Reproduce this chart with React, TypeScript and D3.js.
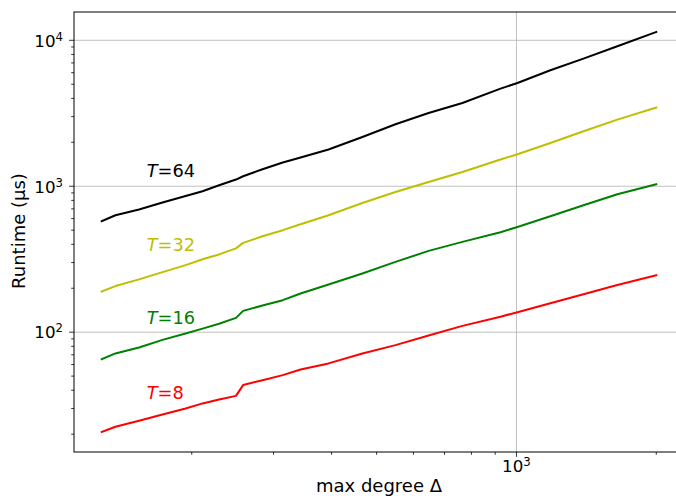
import * as d3 from 'd3';

// max degree values (x) and runtimes in µs per thread count T
const degrees = [128, 137, 154, 173, 194, 211, 229, 249, 258, 284, 314, 343, 394, 466, 549, 647, 765, 924, 1005, 1183, 1394, 1649, 2000];
const runtimeT64 = [576, 633, 693, 773, 858, 924, 1016, 1111, 1171, 1308, 1453, 1573, 1784, 2176, 2659, 3177, 3720, 4669, 5099, 6230, 7494, 9097, 11400];
const runtimeT32 = [190, 207, 230, 258, 288, 316, 341, 375, 409, 454, 500, 549, 633, 768, 914, 1070, 1253, 1524, 1657, 1980, 2381, 2862, 3459];
const runtimeT16 = [65.4, 71.5, 78.6, 88.6, 98.0, 105.7, 114.3, 125.3, 139.9, 152.4, 165.7, 184.1, 212.2, 252.5, 303, 360.6, 415.5, 484, 526.2, 623, 741.3, 881.5, 1032];
const runtimeT8 = [20.7, 22.5, 24.7, 27.3, 30.0, 32.5, 34.6, 36.6, 43.4, 46.9, 50.8, 55.5, 61.1, 71.5, 81.5, 94.9, 110.5, 127.7, 137.1, 158, 182.1, 210.6, 245.7];

const seriesNames = ['64', '32', '16', '8'];
const seriesColors = ['#000000', '#bfbf00', '#008000', '#ff0000'];
const seriesValues = [runtimeT64, runtimeT32, runtimeT16, runtimeT8];
// where each "T=…" label sits, in data coordinates
const labelX = 160;
const labelY = [1160, 360, 113, 35];

const width = 676;
const height = 500;
const left = 74;
const right = 684;
const top = 12;
const bottom = 452;

// matplotlib-style 5% margins in log space
function logDomain(vals: number[]): [number, number] {
  const [lo, hi] = d3.extent(vals) as [number, number];
  const a = Math.log10(lo);
  const b = Math.log10(hi);
  const m = (b - a) * 0.05;
  return [Math.pow(10, a - m), Math.pow(10, b + m)];
}

function logTicks(domain: [number, number]) {
  const major: number[] = [];
  const minor: number[] = [];
  for (let k = -1; k <= 6; k++) {
    for (let m = 1; m <= 9; m++) {
      const v = m * Math.pow(10, k);
      if (v < domain[0] || v > domain[1]) continue;
      if (m === 1) major.push(v);
      else minor.push(v);
    }
  }
  return { major, minor };
}

export default function App() {
  const x = d3.scaleLog().domain(logDomain(degrees)).range([left, right]);
  const y = d3.scaleLog().domain(logDomain(seriesValues.flat())).range([bottom, top]);

  const xt = logTicks(x.domain() as [number, number]);
  const yt = logTicks(y.domain() as [number, number]);

  const line = d3
    .line<number>()
    .x((_, i) => x(degrees[i]))
    .y((d) => y(d));

  const font = 'DejaVu Sans, sans-serif';

  return (
    <svg width={width} height={height} style={{ position: 'absolute', left: 0, top: 0 }} fontFamily={font}>
      <rect x={0} y={0} width={width} height={height} fill="#fff" />
      <defs>
        <clipPath id="plot">
          <rect x={left} y={top} width={right - left} height={bottom - top} />
        </clipPath>
      </defs>

      {/* grid, major only */}
      <g stroke="#b0b0b0" strokeWidth={0.8}>
        {xt.major.map((v) => (
          <line key={'gx' + v} x1={x(v)} x2={x(v)} y1={top} y2={bottom} />
        ))}
        {yt.major.map((v) => (
          <line key={'gy' + v} x1={left} x2={right} y1={y(v)} y2={y(v)} />
        ))}
      </g>

      <g clipPath="url(#plot)" fill="none" strokeWidth={2} strokeLinejoin="round" strokeLinecap="square">
        {seriesValues.map((vals, i) => (
          <path key={i} d={line(vals) || ''} stroke={seriesColors[i]} />
        ))}
      </g>

      {seriesNames.map((n, i) => (
        <text key={'lab' + n} x={x(labelX)} y={y(labelY[i])} fill={seriesColors[i]} fontSize={17.8}>
          <tspan fontStyle="italic">T</tspan>=
          {n}
        </text>
      ))}

      {/* spines */}
      <rect x={left} y={top} width={right - left} height={bottom - top} fill="none" stroke="#000" strokeWidth={1} />

      {/* x ticks */}
      <g stroke="#000" strokeWidth={0.8}>
        {xt.major.map((v) => (
          <line key={'xM' + v} x1={x(v)} x2={x(v)} y1={bottom} y2={bottom + 4.9} />
        ))}
        {xt.minor.map((v) => (
          <line key={'xm' + v} x1={x(v)} x2={x(v)} y1={bottom} y2={bottom + 2.8} />
        ))}
        {yt.major.map((v) => (
          <line key={'yM' + v} x1={left} x2={left - 4.9} y1={y(v)} y2={y(v)} />
        ))}
        {yt.minor.map((v) => (
          <line key={'ym' + v} x1={left} x2={left - 2.8} y1={y(v)} y2={y(v)} />
        ))}
      </g>

      {xt.major.map((v) => (
        <text key={'xl' + v} x={x(v)} y={bottom + 20} textAnchor="middle" fontSize={16.7} fill="#000">
          10<tspan dy={-6} fontSize={11.7}>{Math.round(Math.log10(v))}</tspan>
        </text>
      ))}
      {yt.major.map((v) => (
        <text key={'yl' + v} x={left - 11} y={y(v) + 6.3} textAnchor="end" fontSize={16.7} fill="#000">
          10<tspan dy={-6} fontSize={11.7}>{Math.round(Math.log10(v))}</tspan>
        </text>
      ))}

      <text x={(left + right) / 2} y={492} textAnchor="middle" fontSize={18} fill="#000">
        max degree Δ
      </text>
      <text transform={`translate(25,231) rotate(-90)`} textAnchor="middle" fontSize={18} fill="#000">
        Runtime (μs)
      </text>
    </svg>
  );
}
